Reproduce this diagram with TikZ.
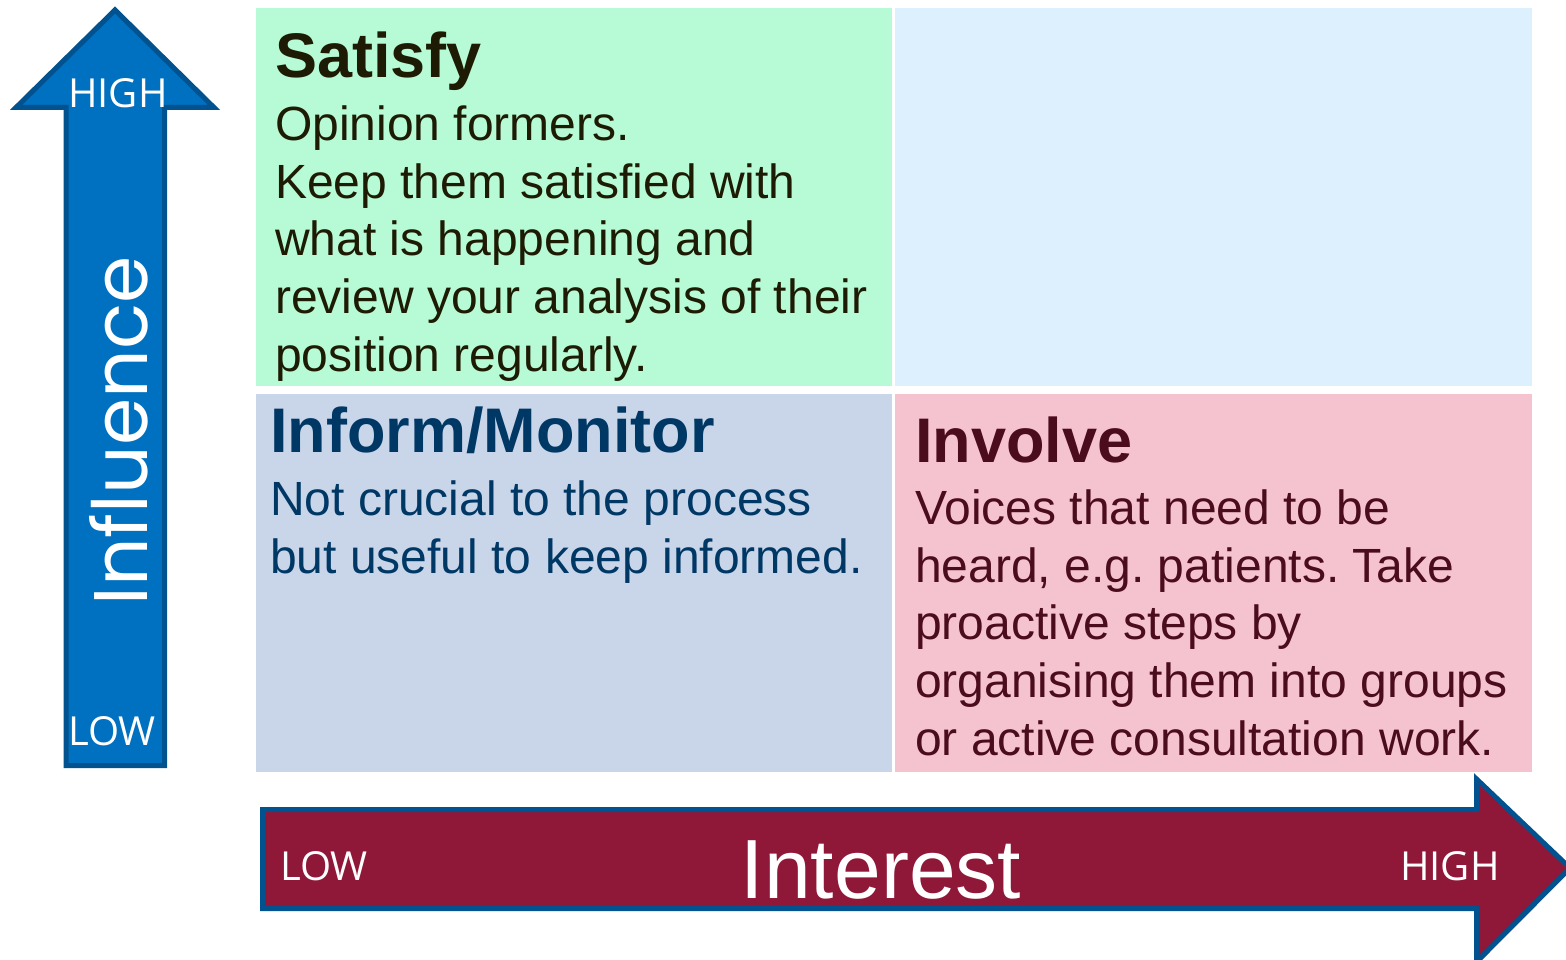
\documentclass[tikz,border=0pt]{standalone}
\usepackage{fontspec}
\setmainfont{Liberation Sans}
\newfontfamily\levelfont{Open Sans}
\newfontfamily\axisfont{Poppins}
\frenchspacing

% Quadrant and arrow colours
\definecolor{satisfyfill}{RGB}{182,250,214}
\definecolor{managefill}{RGB}{221,240,254}
\definecolor{informfill}{RGB}{201,213,233}
\definecolor{involvefill}{RGB}{245,195,207}
\definecolor{satisfyink}{RGB}{30,27,4}
\definecolor{informink}{RGB}{0,56,101}
\definecolor{involveink}{RGB}{75,12,30}
\definecolor{influenceblue}{RGB}{0,112,192}
\definecolor{interestred}{RGB}{143,23,56}
\definecolor{arrowedge}{RGB}{2,82,143}

\tikzset{
	quad title/.style = {anchor = base west, inner sep = 0, font = \fontsize{63}{70}\selectfont\bfseries},
	quad text/.style = {anchor = base west, inner sep = 0, align = left, font = \fontsize{48}{57.6}\selectfont},
	level/.style = {anchor = base west, inner sep = 0, text = white, font = \levelfont\fontsize{40}{48}\selectfont},
	axis arrow/.style = {line width = 5pt, draw = arrowedge, line join = miter}
}

\begin{document}
\begin{tikzpicture}[x = 1pt, y = -1pt]

\useasboundingbox (0, 0) rectangle (1566, 960);
\clip (0, 0) rectangle (1566, 960);

% The four quadrants

\fill [satisfyfill] (256, 8) rectangle (892, 386);
\fill [managefill] (895, 8) rectangle (1532, 386);
\fill [informfill] (256, 394) rectangle (892, 772);
\fill [involvefill] (895, 394) rectangle (1532, 772);

% Quadrant texts (a text block sits on the baseline of its last line)

\node (satisfy) [quad title, text = satisfyink] at (275, 78) {Satisfy};
\node (satisfy-text) [quad text, text = satisfyink] at (275, 371)
	{Opinion formers.\\ Keep them satisfied with\\ what is happening and\\ review your analysis of their\\ position regularly.};

\node (inform) [quad title, text = informink] at (270, 452) {Inform/Monitor};
\node (inform-text) [quad text, text = informink] at (270, 573)
	{Not crucial to the process\\ but useful to keep informed.};

\node (involve) [quad title, text = involveink] at (915, 462) {Involve};
\node (involve-text) [quad text, text = involveink] at (915, 755)
	{Voices that need to be\\ heard, e.g. patients. Take\\ proactive steps by\\ organising them into groups\\ or active consultation work.};

% Influence arrow

\filldraw [axis arrow, fill = influenceblue] (66, 107.5) -- (16, 107.5) -- (115, 10) -- (214, 107.5) -- (164.5, 107.5) -- (164.5, 765.5) -- (66, 765.5) -- cycle;

\node (influence) [rotate = 90, inner sep = 0, text = white, font = \axisfont\fontsize{76}{86}\selectfont] at (119, 431) {Influence};
\node (influence-high) [level] at (68, 108) {HIGH};
\node (influence-low) [level] at (68, 745) {LOW};

% Interest arrow

\filldraw [axis arrow, fill = interestred] (262.5, 809.5) -- (1476.5, 809.5) -- (1476.5, 779) -- (1570, 868) -- (1476.5, 962) -- (1476.5, 908.5) -- (262.5, 908.5) -- cycle;

\node (interest) [anchor = base, inner sep = 0, text = white, font = \fontsize{84}{90}\selectfont] at (881, 898) {Interest};
\node (interest-low) [level] at (280, 880) {LOW};
\node (interest-high) [level] at (1400, 880) {HIGH};

\end{tikzpicture}
\end{document}
